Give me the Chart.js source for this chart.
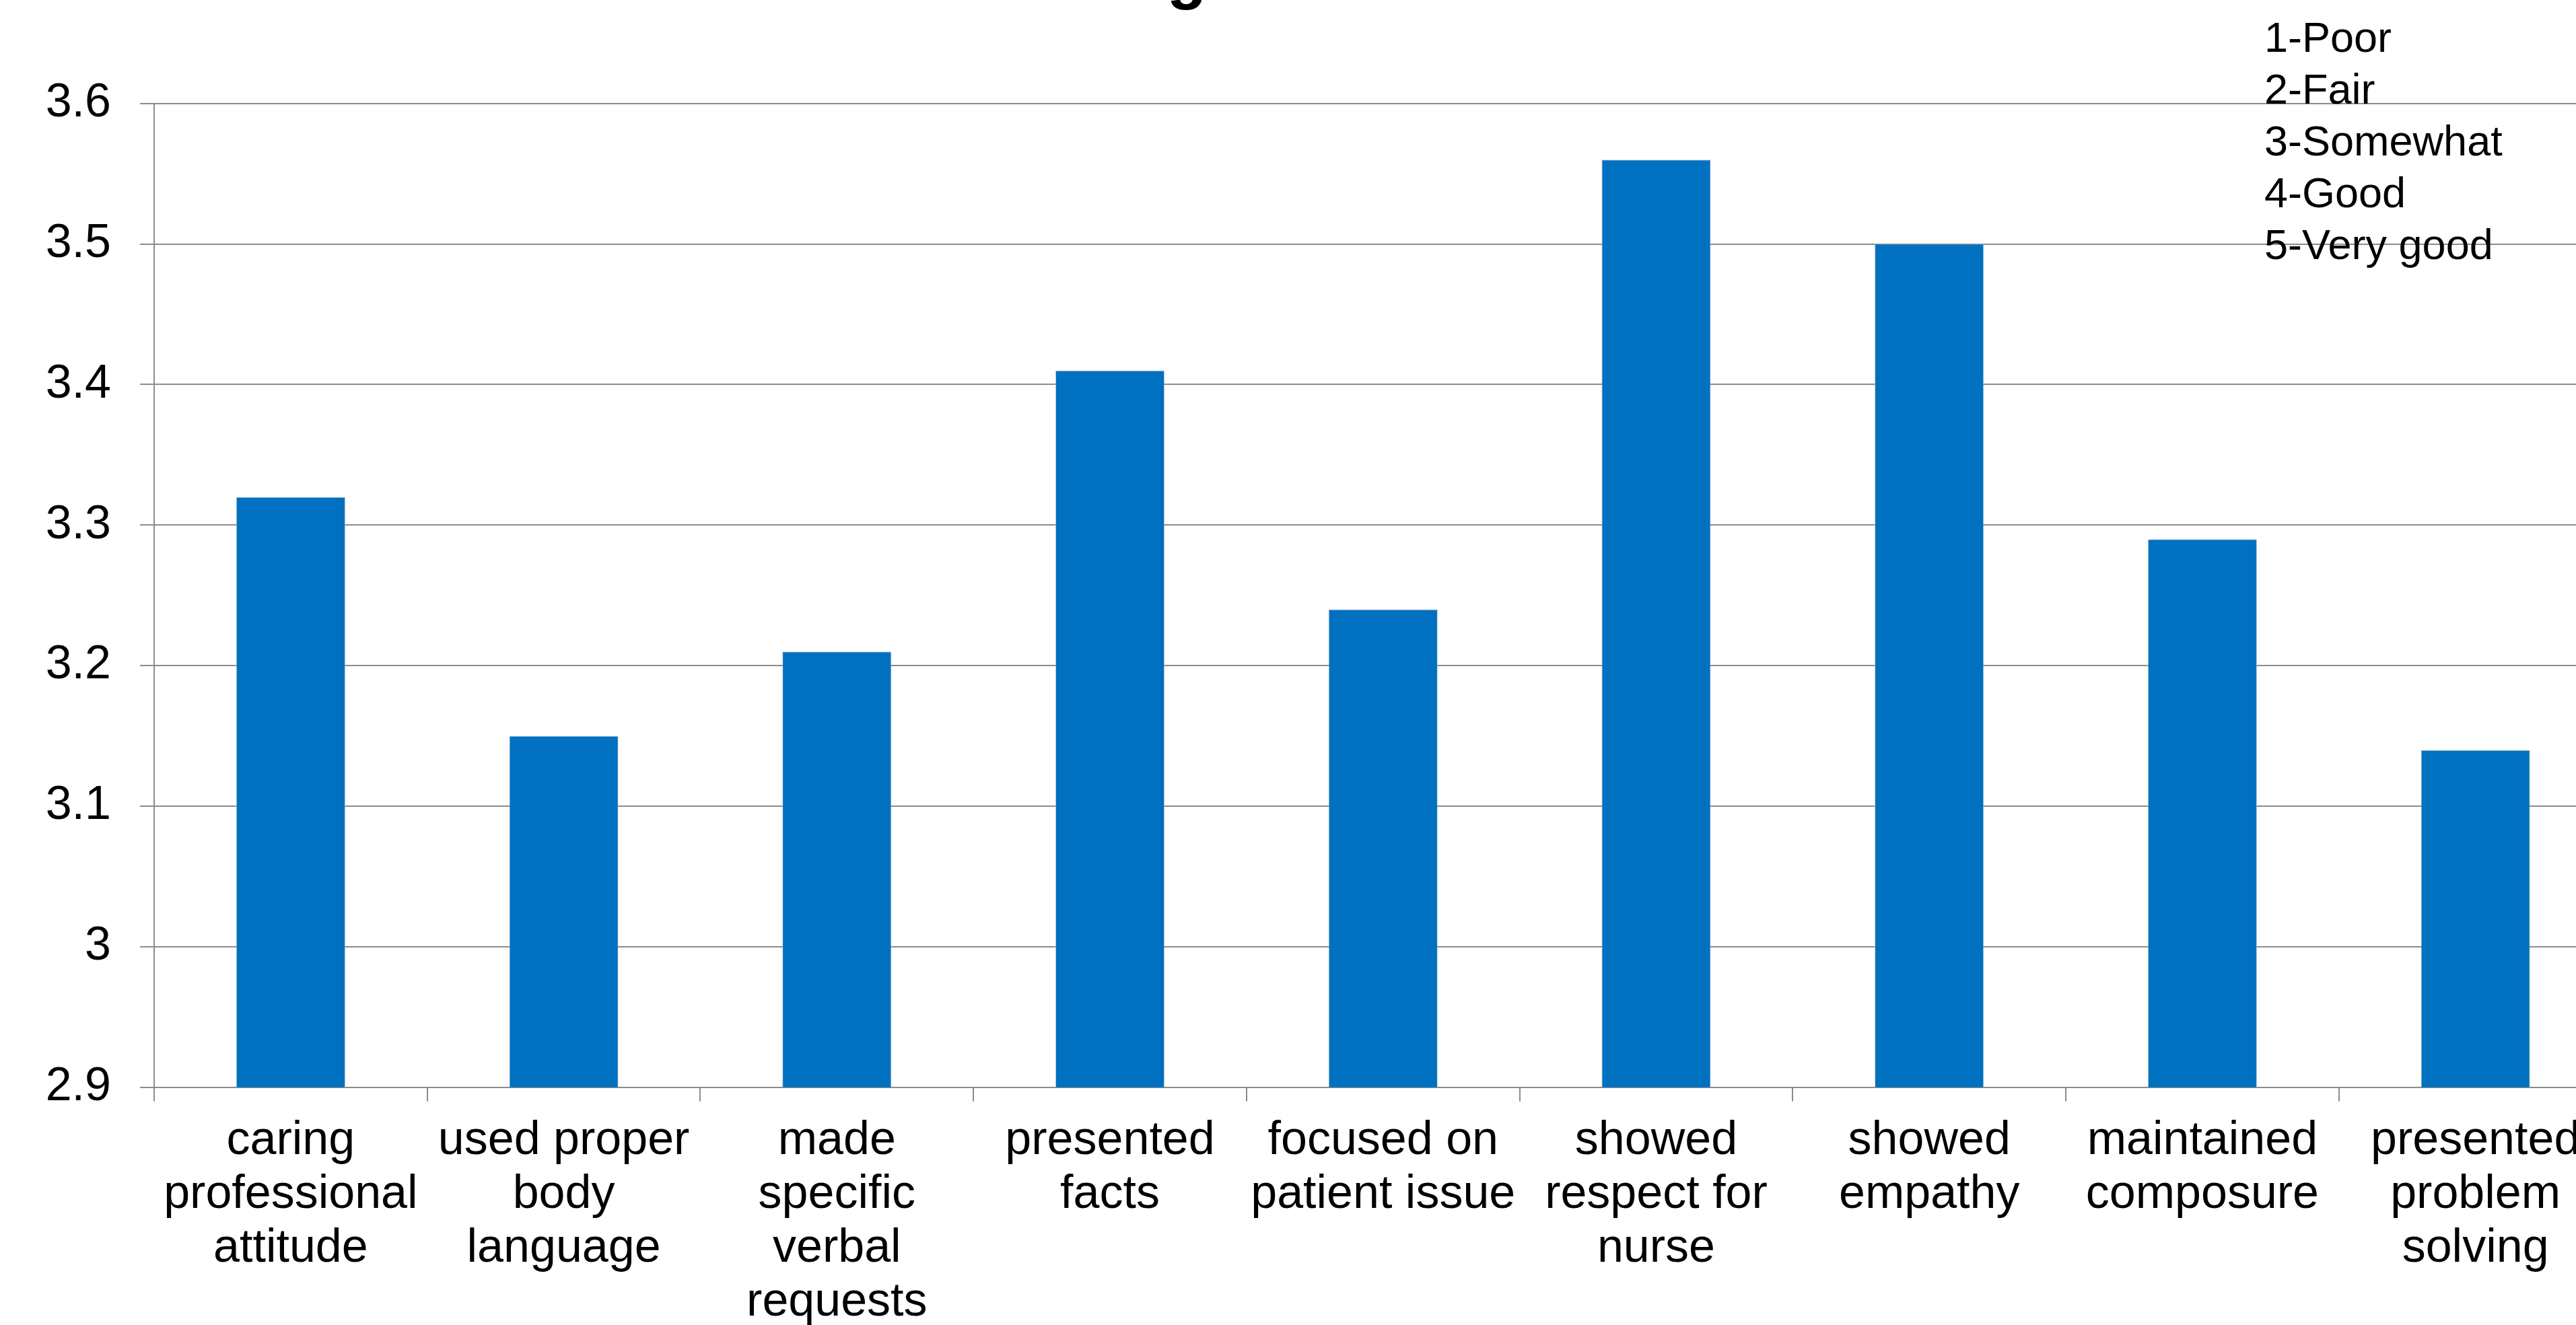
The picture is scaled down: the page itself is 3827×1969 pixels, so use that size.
<!DOCTYPE html>
<html>
<head>
<meta charset="utf-8">
<title>Students' Self-Rating of Their Performance</title>
<script src="https://cdn.jsdelivr.net/npm/chart.js@4.4.1/dist/chart.umd.min.js"></script>
<style>
  html, body { margin: 0; padding: 0; background: #ffffff; overflow: hidden; }
  body { width: 3827px; height: 1969px; position: relative; }
  #wrap { position: absolute; left: 0; top: -100px; width: 4035px; height: 2069px; }
  #scaleNote {
    position: absolute; left: 3364px; top: 17px;
    font-family: "Liberation Sans", Arial, sans-serif;
    font-size: 63px; line-height: 77px; color: #000;
    white-space: pre;
  }
</style>
</head>
<body>
<div id="wrap"><canvas id="chart" width="4035" height="2069"></canvas></div>
<div id="scaleNote"></div>
<script>
// Survey items (multi-line labels as shown under each bar)
const categories = [
  ["caring", "professional", "attitude"],
  ["used proper", "body", "language"],
  ["made", "specific", "verbal", "requests"],
  ["presented", "facts"],
  ["focused on", "patient issue"],
  ["showed", "respect for", "nurse"],
  ["showed", "empathy"],
  ["maintained", "composure"],
  ["presented", "problem", "solving"]
];

// Mean self-rating for each item
const ratings = [3.32, 3.15, 3.21, 3.41, 3.24, 3.56, 3.50, 3.29, 3.14];

// Value axis ticks and their printed labels
const yTickValues = [2.9, 3.0, 3.1, 3.2, 3.3, 3.4, 3.5, 3.6];
const yTickLabels = ["2.9", "3", "3.1", "3.2", "3.3", "3.4", "3.5", "3.6"];

// Rating scale key
const ratingScale = ["1-Poor", "2-Fair", "3-Somewhat", "4-Good", "5-Very good"];

const titleText = "Students' Self-Rating of Their Performance in SP";

document.getElementById("scaleNote").textContent = ratingScale.join("\n");

const FONT = '"Liberation Sans", Arial, sans-serif';
const GRID = "#8c8c8c";

new Chart(document.getElementById("chart"), {
  type: "bar",
  data: {
    labels: categories,
    datasets: [{
      data: ratings,
      backgroundColor: "#0070C0",
      borderColor: "rgba(185,185,185,0.7)",
      borderWidth: 1,
      borderSkipped: "bottom",
      categoryPercentage: 1.0,
      barPercentage: 0.4
    }]
  },
  options: {
    responsive: false,
    devicePixelRatio: 1,
    animation: false,
    layout: { padding: { left: 0, right: 154.5, top: 0, bottom: 0 } },
    plugins: {
      legend: { display: false },
      tooltip: { enabled: false },
      title: {
        display: true,
        text: titleText,
        color: "#000",
        font: { family: FONT, size: 97, weight: "bold", lineHeight: "110px" },
        padding: { top: 13.4, bottom: 130.3 }
      }
    },
    scales: {
      x: {
        offset: true,
        grid: {
          display: true,
          offset: true,
          drawOnChartArea: false,
          drawTicks: true,
          tickLength: 21,
          color: GRID,
          lineWidth: 2
        },
        border: { display: true, color: GRID, width: 2 },
        ticks: {
          color: "#000",
          font: { family: FONT, size: 70, lineHeight: "80px" },
          padding: 19,
          maxRotation: 0,
          minRotation: 0,
          autoSkip: false
        },
        afterFit(scale) { scale.height = 353.3; }
      },
      y: {
        min: 2.9,
        max: 3.6,
        grid: {
          color: GRID,
          lineWidth: 2,
          tickLength: 21,
          drawTicks: true
        },
        border: { display: true, color: GRID, width: 2 },
        afterBuildTicks(scale) {
          scale.ticks = yTickValues.map(v => ({ value: v }));
        },
        ticks: {
          color: "#000",
          font: { family: FONT, size: 70 },
          padding: 43,
          callback(value, index) { return yTickLabels[index]; }
        },
        afterFit(scale) { scale.width = 229; }
      }
    }
  }
});
</script>
</body>
</html>
